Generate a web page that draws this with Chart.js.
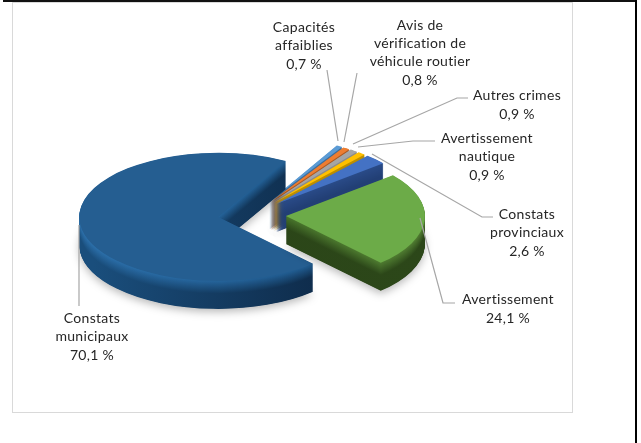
<!DOCTYPE html>
<html lang="fr">
<head>
<meta charset="utf-8">
<title>Répartition des constats</title>
<script src="https://cdn.jsdelivr.net/npm/chart.js@4/dist/chart.umd.min.js"></script>
<style>
  html, body { margin: 0; padding: 0; background: #fff; }
  #page { position: relative; width: 641px; height: 443px; overflow: hidden; }
  #topline { position: absolute; left: 3px; top: 0; width: 634px; height: 1.5px; background: #111; }
  #sideline { position: absolute; left: 635px; top: 0; width: 2px; height: 443px; background: #000; }
  #frame { position: absolute; left: 12px; top: 2px; width: 559px; height: 409px; border: 1.5px solid #d9d9d9; }
  canvas { position: absolute; left: 0; top: 0; }
</style>
</head>
<body>
<div id="page">
  <div id="topline"></div>
  <div id="sideline"></div>
  <div id="frame"></div>
  <canvas id="pie" width="641" height="443"></canvas>
</div>
<script>
// Values in percent, clockwise from the big slice
const categories = ['Constats municipaux', 'Capacités affaiblies', 'Avis de vérification de véhicule routier',
  'Autres crimes', 'Avertissement nautique', 'Constats provinciaux', 'Avertissement'];
const values = [70.1, 0.7, 0.8, 0.9, 0.9, 2.6, 24.1];
const valueLabels = ['70,1 %', '0,7 %', '0,8 %', '0,9 %', '0,9 %', '2,6 %', '24,1 %'];
const labelLines = [
  ['Constats', 'municipaux'],
  ['Capacités', 'affaiblies'],
  ['Avis de', 'vérification de', 'véhicule routier'],
  ['Autres crimes'],
  ['Avertissement', 'nautique'],
  ['Constats', 'provinciaux'],
  ['Avertissement'],
];

const topColors = ['#255e91', '#5b9bd5', '#ed7d31', '#a5a5a5', '#ffc000', '#4472c4', '#6cab48'];
// wall colours: [rim left, rim right, foot left, foot right]
const wallColors = [
  ['#2c70ab', '#1d5688', '#1a4e7c', '#0c2440'],
  ['#3f6f9c', '#3f6f9c', '#2f5a82', '#2f5a82'],
  ['#b05a20', '#b05a20', '#8f4816', '#8f4816'],
  ['#8c8c8c', '#8c8c8c', '#7a7a7a', '#7a7a7a'],
  ['#c09000', '#c09000', '#a87e00', '#a87e00'],
  ['#2a4b88', '#2a4b88', '#223f75', '#223f75'],
  ['#3f6b25', '#527f33', '#2b4518', '#2c4719'],
];
const drawOrder = [1, 2, 3, 4, 5, 0, 6];

// pie placement on the page (tilted view), explosion along each slice's middle
const PIE = { cx: 252, cy: 215, rx: 139, ry: 64, depth: 28, explode: 34 };

// label centre x, first line y; leader polyline
const labelSpots = [
  { x: 92, y: 318, leader: [[79, 306], [79, 225]] },
  { x: 304, y: 27, leader: [[327, 70], [338, 141]] },
  { x: 420, y: 25, leader: [[357, 73], [344, 142]] },
  { x: 517, y: 95, leader: [[468, 98], [457, 98], [353, 144]] },
  { x: 487, y: 138, leader: [[435, 141], [413, 141], [358, 147]] },
  { x: 527, y: 214, leader: [[493, 217], [482, 217], [372, 154]] },
  { x: 508, y: 299, leader: [[455, 303], [443, 303], [420, 218]] },
];

function mix(a, b, t) {
  const p = (h, i) => parseInt(h.slice(i, i + 2), 16);
  const c = [1, 3, 5].map(i => Math.round(p(a, i) + (p(b, i) - p(a, i)) * t));
  return `rgb(${c[0]}, ${c[1]}, ${c[2]})`;
}

function paintArc(ctx, arc, fill) {
  const saved = arc.options;
  arc.options = {
    offset: 0, spacing: 0, borderWidth: 0, borderColor: 'transparent',
    backgroundColor: fill, circular: true, borderRadius: 0, borderAlign: 'center', borderJoinStyle: 'round',
  };
  arc.draw(ctx);
  arc.options = saved;
}

const tiltedPie = {
  id: 'tiltedPie',
  beforeDatasetsDraw(chart) {
    const ctx = chart.ctx;
    const arcs = chart.getDatasetMeta(0).data;
    drawOrder.forEach(i => {
      const arc = arcs[i];
      const R = arc.outerRadius;
      const mid = (arc.startAngle + arc.endAngle) / 2;
      const ex = Math.cos(mid) * PIE.explode;
      const ey = Math.sin(mid) * PIE.explode * PIE.ry / PIE.rx;
      const place = (dy) => {
        ctx.setTransform(1, 0, 0, 1, 0, 0);
        ctx.translate(PIE.cx + ex, PIE.cy + ey + dy);
        ctx.scale(PIE.rx / R, PIE.ry / R);
        ctx.translate(-arc.x, -arc.y);
      };
      ctx.save();
      // extruded wall, foot first
      for (let dy = PIE.depth; dy >= 0.5; dy -= 0.5) {
        place(dy);
        const t = Math.min(1, (dy / PIE.depth) * 2.2);
        const w = wallColors[i];
        const g = ctx.createLinearGradient(arc.x - R * 0.9, 0, arc.x + R * 1.1, 0);
        g.addColorStop(0, mix(w[0], w[2], t));
        g.addColorStop(1, mix(w[1], w[3], t));
        if (dy === PIE.depth) {
          ctx.shadowColor = 'rgba(0, 0, 0, 0.28)';
          ctx.shadowBlur = 9;
          ctx.shadowOffsetY = 3;
        } else {
          ctx.shadowColor = 'transparent';
        }
        paintArc(ctx, arc, g);
      }
      // top face
      place(0);
      ctx.shadowColor = 'transparent';
      paintArc(ctx, arc, topColors[i]);
      ctx.restore();
    });
    ctx.setTransform(1, 0, 0, 1, 0, 0);
    return false;
  },
  afterDraw(chart) {
    const ctx = chart.ctx;
    ctx.save();
    ctx.strokeStyle = '#a6a6a6';
    ctx.lineWidth = 1.2;
    labelSpots.forEach(s => {
      ctx.beginPath();
      s.leader.forEach((p, i) => (i ? ctx.lineTo(p[0], p[1]) : ctx.moveTo(p[0], p[1])));
      ctx.stroke();
    });
    ctx.fillStyle = '#262626';
    ctx.font = '14px Lato';
    ctx.letterSpacing = '0.3px';
    ctx.textAlign = 'center';
    ctx.textBaseline = 'middle';
    labelSpots.forEach((s, i) => {
      const lines = labelLines[i].concat(valueLabels[i]);
      lines.forEach((txt, j) => {
        const last = j === lines.length - 1 && lines.length > 1;
        ctx.fillText(txt, s.x, s.y + j * 18 + (last ? 1.5 : 0));
      });
    });
    ctx.restore();
  },
};

new Chart(document.getElementById('pie'), {
  type: 'pie',
  data: {
    labels: categories,
    datasets: [{ data: values, backgroundColor: topColors, borderWidth: 0 }],
  },
  options: {
    responsive: false,
    animation: false,
    rotation: 137,
    layout: { padding: 0 },
    plugins: { legend: { display: false }, tooltip: { enabled: false } },
  },
  plugins: [tiltedPie],
});
</script>
</body>
</html>
